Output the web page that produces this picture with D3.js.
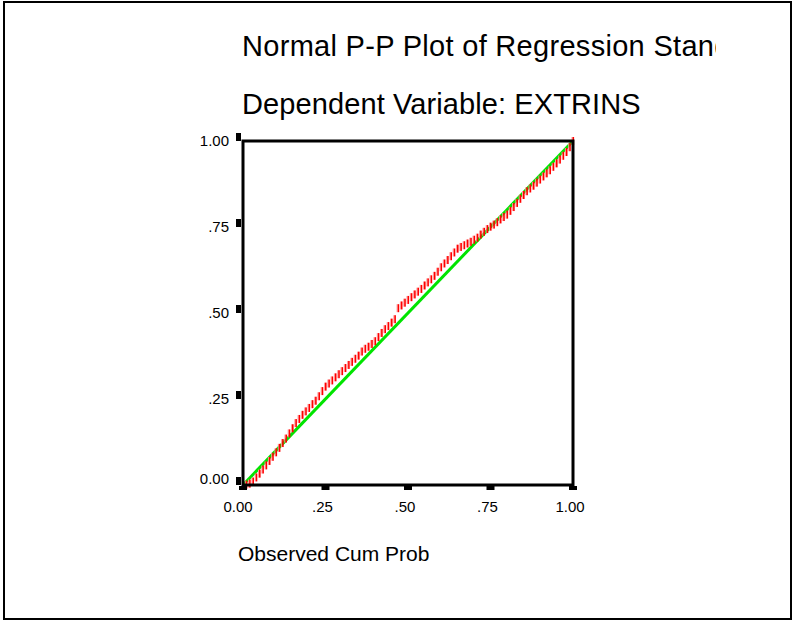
<!DOCTYPE html>
<html><head><meta charset="utf-8">
<script src="https://cdn.jsdelivr.net/npm/d3@7/dist/d3.min.js"></script>
<style>html,body{margin:0;padding:0;background:#fff}svg{display:block}</style>
</head><body>
<script>
const titleText = "Normal P-P Plot of Regression Standardized Residual";
const subtitleText = "Dependent Variable: EXTRINS";
const xTitle = "Observed Cum Prob";
const tickValues = [0, 0.25, 0.5, 0.75, 1];
const tickLabels = ["0.00", ".25", ".50", ".75", "1.00"];
const observed = [0.01,0.02,0.03,0.04,0.05,0.06,0.07,0.08,0.09,0.10,0.11,0.12,0.13,0.14,0.15,0.16,0.17,0.18,0.19,0.20,0.21,0.22,0.23,0.24,0.25,0.26,0.27,0.28,0.29,0.30,0.31,0.32,0.33,0.34,0.35,0.36,0.37,0.38,0.39,0.40,0.41,0.42,0.43,0.44,0.45,0.46,0.47,0.48,0.49,0.50,0.51,0.52,0.53,0.54,0.55,0.56,0.57,0.58,0.59,0.60,0.61,0.62,0.63,0.64,0.65,0.66,0.67,0.68,0.69,0.70,0.71,0.72,0.73,0.74,0.75,0.76,0.77,0.78,0.79,0.80,0.81,0.82,0.83,0.84,0.85,0.86,0.87,0.88,0.89,0.90,0.91,0.92,0.93,0.94,0.95,0.96,0.97,0.98,0.99,1.00];
const expected = [0.001,0.004,0.010,0.022,0.033,0.045,0.057,0.070,0.082,0.095,0.108,0.122,0.135,0.150,0.165,0.180,0.192,0.204,0.214,0.224,0.235,0.245,0.258,0.273,0.286,0.295,0.304,0.313,0.322,0.331,0.340,0.349,0.358,0.367,0.376,0.388,0.396,0.402,0.410,0.418,0.430,0.442,0.453,0.462,0.472,0.482,0.514,0.522,0.530,0.538,0.546,0.554,0.562,0.570,0.580,0.589,0.598,0.608,0.620,0.633,0.644,0.654,0.665,0.676,0.687,0.692,0.697,0.702,0.707,0.713,0.719,0.728,0.736,0.744,0.751,0.757,0.764,0.772,0.779,0.786,0.797,0.808,0.820,0.832,0.843,0.854,0.862,0.870,0.879,0.888,0.897,0.906,0.915,0.925,0.935,0.946,0.957,0.968,0.982,1.000];
const refLine = [[0,0],[1,1]];

const W = 795, H = 623;
const svg = d3.select("body").append("svg").attr("width", W).attr("height", H);
const font = "'Liberation Sans', Arial, sans-serif";

// outer border
svg.append("rect").attr("x", 4).attr("y", 2).attr("width", 787).attr("height", 617)
  .attr("fill", "none").attr("stroke", "#000").attr("stroke-width", 2);

// titles
svg.append("clipPath").attr("id", "tclip").append("rect")
  .attr("x", 0).attr("y", 0).attr("width", 716).attr("height", 80);
svg.append("text").attr("x", 242).attr("y", 56).attr("clip-path", "url(#tclip)")
  .attr("font-family", font).attr("font-size", 29).attr("letter-spacing", 0.3).attr("fill", "#000").text(titleText);
svg.append("text").attr("x", 242).attr("y", 114)
  .attr("font-family", font).attr("font-size", 29).attr("letter-spacing", 0.1).attr("fill", "#000").text(subtitleText);

const x = d3.scaleLinear().domain([0, 1]).range([243, 573]);
const y = d3.scaleLinear().domain([0, 1]).range([485, 141]);

// reference line
svg.append("path").datum(refLine)
  .attr("d", d3.line().x(d => x(d[0])).y(d => y(d[1])))
  .attr("stroke", "#00e400").attr("stroke-width", 3).attr("fill", "none");

// points (small vertical dashes)
const pts = svg.append("g");
observed.forEach((o, i) => {
  const px = x(o), py = y(expected[i]);
  pts.append("rect").attr("x", px - 1.5).attr("y", py - 4).attr("width", 1).attr("height", 8).attr("fill", "#ff9a9a");
  pts.append("rect").attr("x", px - 0.5).attr("y", py - 4).attr("width", 1.6).attr("height", 8).attr("fill", "#ff0000");
});

// frame
svg.append("rect").attr("x", x(0)).attr("y", y(1)).attr("width", x(1) - x(0)).attr("height", y(0) - y(1))
  .attr("fill", "none").attr("stroke", "#000").attr("stroke-width", 3);

// y ticks
tickValues.forEach((v, i) => {
  svg.append("rect").attr("x", 236).attr("y", y(v) - 8).attr("width", 5).attr("height", 8).attr("fill", "#000");
  svg.append("text").attr("x", 229).attr("y", y(v) + (v === 0 ? -6 : 0)).attr("dy", "0.36em")
    .attr("text-anchor", "end").attr("font-family", font).attr("font-size", 15).attr("fill", "#000")
    .text(tickLabels[i]);
});
// x ticks
tickValues.forEach((v, i) => {
  svg.append("rect").attr("x", x(v) - 4).attr("y", y(0) + 1).attr("width", 8).attr("height", 4).attr("fill", "#000");
  svg.append("text").attr("x", x(v) - (v === 0 ? 5 : 3)).attr("y", 512)
    .attr("text-anchor", "middle").attr("font-family", font).attr("font-size", 15).attr("fill", "#000")
    .text(tickLabels[i]);
});

svg.append("text").attr("x", 238).attr("y", 561)
  .attr("font-family", font).attr("font-size", 21).attr("fill", "#000").text(xTitle);
</script>
</body></html>
